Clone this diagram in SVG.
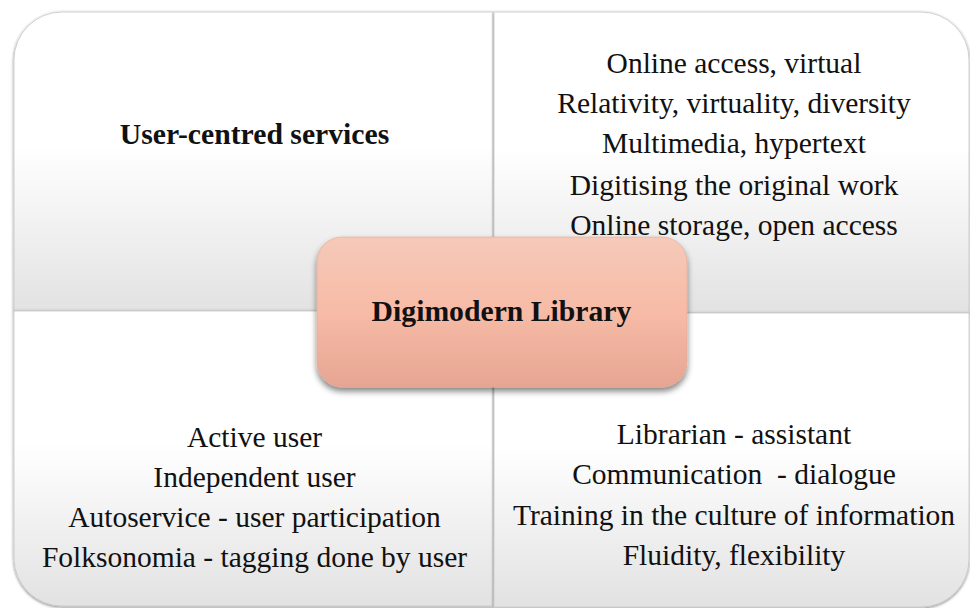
<svg xmlns="http://www.w3.org/2000/svg" width="970" height="608" viewBox="0 0 970 608">
  <defs>
    <linearGradient id="quadFill" x1="0" y1="0" x2="0" y2="1">
      <stop offset="0" stop-color="#ffffff"/>
      <stop offset="0.45" stop-color="#ffffff"/>
      <stop offset="1" stop-color="#e2e2e2"/>
    </linearGradient>
    <linearGradient id="hubFill" x1="0" y1="0" x2="0" y2="1">
      <stop offset="0" stop-color="#f5c9b9"/>
      <stop offset="0.5" stop-color="#f7bba6"/>
      <stop offset="1" stop-color="#e6a592"/>
    </linearGradient>
    <filter id="softShadow" x="-5%" y="-5%" width="110%" height="110%">
      <feGaussianBlur in="SourceAlpha" stdDeviation="1.6"/>
      <feOffset dx="0" dy="1" result="b"/>
      <feComponentTransfer><feFuncA type="linear" slope="0.5"/></feComponentTransfer>
      <feMerge><feMergeNode/><feMergeNode in="SourceGraphic"/></feMerge>
    </filter>
    <filter id="hubShadow" x="-10%" y="-10%" width="120%" height="130%">
      <feGaussianBlur in="SourceAlpha" stdDeviation="3"/>
      <feOffset dx="0" dy="4" result="b"/>
      <feComponentTransfer><feFuncA type="linear" slope="0.5"/></feComponentTransfer>
      <feMerge><feMergeNode/><feMergeNode in="SourceGraphic"/></feMerge>
    </filter>
  </defs>
  <style>
    .quad { fill: url(#quadFill); stroke: #c8c8c8; stroke-width: 0.8; filter: url(#softShadow); }
    .hub { fill: url(#hubFill); stroke: #e0a894; stroke-width: 0.6; filter: url(#hubShadow); }
    text { font-family: "Liberation Serif", "Times New Roman", serif; font-size: 29.5px; fill: #111; text-anchor: middle; }
    .bold { font-weight: bold; font-size: 29.7px; }
  </style>

  <g id="quad-top-left">
    <path class="quad" d="M14,60 A48,48 0 0 1 62,12 H493 V311 H14 Z"/>
    <text class="bold" x="254.5" y="144">User-centred services</text>
  </g>

  <g id="quad-bottom-left">
    <path class="quad" d="M14,311 H493 V606 H62 A48,48 0 0 1 14,558 Z"/>
    <text x="254.5" y="446.5">Active user</text>
    <text x="254.5" y="486.5">Independent user</text>
    <text x="254.5" y="526.5">Autoservice - user participation</text>
    <text x="254.5" y="566.5">Folksonomia - tagging done by user</text>
  </g>

  <g id="quad-top-right">
    <path class="quad" d="M494,12 H921 A48,48 0 0 1 969,60 V313 H494 Z"/>
    <text x="734" y="72.5">Online access, virtual</text>
    <text x="734" y="112.5">Relativity, virtuality, diversity</text>
    <text x="734" y="153">Multimedia, hypertext</text>
    <text x="734" y="194.5">Digitising the original work</text>
    <text x="734" y="235">Online storage, open access</text>
  </g>

  <g id="quad-bottom-right">
    <path class="quad" d="M494,313 H969 V559 A48,48 0 0 1 921,607 H494 Z"/>
    <text x="734" y="443.5">Librarian - assistant</text>
    <text x="734" y="483.5">Communication&#160; - dialogue</text>
    <text x="734" y="524.5">Training in the culture of information</text>
    <text x="734" y="564.5">Fluidity, flexibility</text>
  </g>

  <g id="hub">
    <rect class="hub" x="317" y="237" width="370" height="150" rx="25" ry="25"/>
    <text class="bold" x="501.5" y="320.5">Digimodern Library</text>
  </g>
</svg>
